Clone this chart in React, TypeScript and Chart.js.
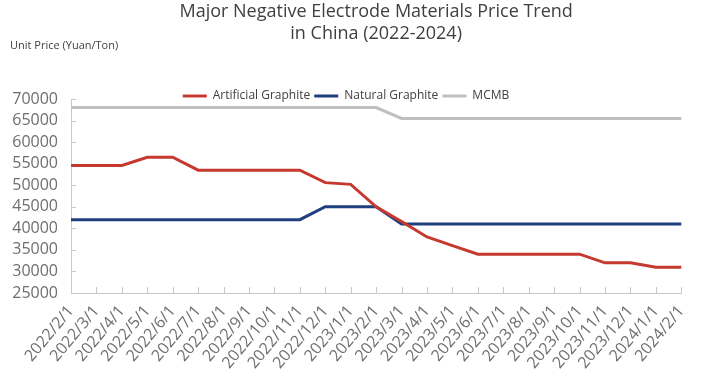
import React, { useEffect, useRef } from 'react';
import { Chart, registerables } from 'chart.js';

Chart.register(...registerables);

const categories = [
  '2022/2/1', '2022/3/1', '2022/4/1', '2022/5/1', '2022/6/1', '2022/7/1',
  '2022/8/1', '2022/9/1', '2022/10/1', '2022/11/1', '2022/12/1', '2023/1/1',
  '2023/2/1', '2023/3/1', '2023/4/1', '2023/5/1', '2023/6/1', '2023/7/1',
  '2023/8/1', '2023/9/1', '2023/10/1', '2023/11/1', '2023/12/1', '2024/1/1',
  '2024/2/1',
];

const artificialGraphite = [
  54600, 54600, 54600, 56500, 56500, 53500, 53500, 53500, 53500, 53500, 50600, 50200,
  45000, 41600, 38000, 36000, 34000, 34000, 34000, 34000, 34000, 32000, 32000, 31000,
  31000,
];

const naturalGraphite = [
  42000, 42000, 42000, 42000, 42000, 42000, 42000, 42000, 42000, 42000, 45000, 45000,
  45000, 41000, 41000, 41000, 41000, 41000, 41000, 41000, 41000, 41000, 41000, 41000,
  41000,
];

const mcmb = [
  68000, 68000, 68000, 68000, 68000, 68000, 68000, 68000, 68000, 68000, 68000, 68000,
  68000, 65500, 65500, 65500, 65500, 65500, 65500, 65500, 65500, 65500, 65500, 65500,
  65500,
];

const seriesNames = ['Artificial Graphite', 'Natural Graphite', 'MCMB'];
const seriesColors = ['#C6392F', '#1F3F7F', '#BFBFBF'];
const titleLines = ['Major Negative Electrode Materials Price Trend', 'in China (2022-2024)'];
const unitLabel = 'Unit Price (Yuan/Ton)';
const Y_MIN = 25000;
const Y_MAX = 70000;
const Y_STEP = 5000;

const FONT = '"Open Sans", "Noto Sans", sans-serif';
const AXIS_COLOR = '#C8C8C8';
const TICK_COLOR = '#6E6E6E';
const TEXT_COLOR = '#404040';
const LEGEND_SHIFT = 13;

const innerTicks = {
  id: 'innerTicks',
  afterLayout(chart: any) {
    const lg = chart.legend;
    if (lg) {
      lg.top += LEGEND_SHIFT;
      lg.bottom += LEGEND_SHIFT;
    }
  },
  beforeDatasetsDraw(chart: any) {
    const { ctx, chartArea } = chart;
    const x = chart.scales.x;
    const y = chart.scales.y;
    ctx.save();
    ctx.strokeStyle = AXIS_COLOR;
    ctx.lineWidth = 1;
    ctx.beginPath();
    x.ticks.forEach((_: any, i: number) => {
      const px = Math.round(x.getPixelForTick(i)) + 0.5;
      ctx.moveTo(px, chartArea.bottom);
      ctx.lineTo(px, chartArea.bottom - 6);
    });
    y.ticks.forEach((_: any, i: number) => {
      const py = Math.round(y.getPixelForTick(i)) + 0.5;
      ctx.moveTo(chartArea.left, py);
      ctx.lineTo(chartArea.left + 5, py);
    });
    ctx.stroke();
    ctx.restore();
  },
};

export default function App() {
  const canvasRef = useRef<HTMLCanvasElement | null>(null);

  useEffect(() => {
    if (!canvasRef.current) return;
    const values = [artificialGraphite, naturalGraphite, mcmb];
    const chart = new Chart(canvasRef.current, {
      type: 'line',
      data: {
        labels: categories,
        datasets: values.map((data, i) => ({
          label: seriesNames[i],
          data,
          borderColor: seriesColors[i],
          backgroundColor: seriesColors[i],
          borderWidth: 3,
          pointRadius: 0,
          pointHoverRadius: 0,
          pointBorderWidth: 3,
          tension: 0,
          fill: false,
        })),
      },
      options: {
        responsive: false,
        animation: false,
        layout: { padding: { left: 10, right: 23, top: 0, bottom: 0 } },
        plugins: {
          title: {
            display: true,
            text: titleLines,
            fullSize: false,
            color: TEXT_COLOR,
            font: { family: FONT, size: 18, weight: 'normal', lineHeight: '22px' },
            padding: { top: 1, bottom: 0 },
          },
          subtitle: {
            display: true,
            text: unitLabel,
            align: 'start',
            color: TEXT_COLOR,
            font: { family: FONT, size: 11, weight: 'normal', lineHeight: '2px' },
            padding: { top: 0, bottom: 26 },
          },
          legend: {
            display: true,
            position: 'top',
            align: 'center',
            labels: {
              usePointStyle: true,
              pointStyle: 'line',
              pointStyleWidth: 24,
              padding: 4,
              color: TEXT_COLOR,
              font: { family: FONT, size: 12 },
            },
          },
          tooltip: { enabled: false },
        },
        scales: {
          x: {
            type: 'category',
            offset: false,
            grid: { display: false, drawTicks: false },
            border: { display: true, color: AXIS_COLOR, width: 1 },
            ticks: {
              autoSkip: false,
              minRotation: 50,
              maxRotation: 50,
              color: TICK_COLOR,
              font: { family: FONT, size: 16 },
              padding: 9,
            },
            afterFit: (s: any) => { s.height = 90; },
          },
          y: {
            min: Y_MIN,
            max: Y_MAX,
            grid: { display: false, drawTicks: false },
            border: { display: true, color: AXIS_COLOR, width: 1 },
            ticks: {
              stepSize: Y_STEP,
              autoSkip: false,
              color: TICK_COLOR,
              font: { family: FONT, size: 16 },
              padding: 13,
              callback: (v: any) => String(v),
            },
            afterFit: (s: any) => { s.width = 61; },
          },
        },
      },
      plugins: [innerTicks],
    } as any);
    return () => chart.destroy();
  }, []);

  return (
    <div style={{ position: 'fixed', left: 0, top: 0, width: 705, height: 383, background: '#fff' }}>
      <canvas ref={canvasRef} width={705} height={383} />
    </div>
  );
}
